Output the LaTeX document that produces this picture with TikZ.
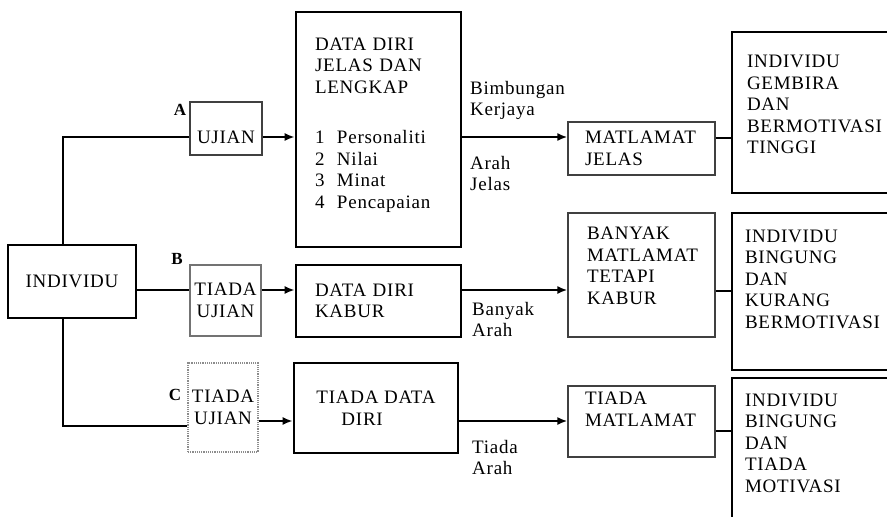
\documentclass[tikz,border=0pt]{standalone}
\usepackage{fontspec}
\setmainfont{Liberation Serif}[LetterSpace=4]
\usetikzlibrary{arrows.meta}

\begin{document}
\begin{tikzpicture}[x=1pt,y=-1pt,font=\fontsize{19}{21.5}\selectfont]
  \tikzset{heavy/.style = {draw,line width=2.6pt,inner ysep=0pt}}
  \tikzset{light/.style = {draw=black!75,line width=1.2pt,inner ysep=0pt}}
  \tikzset{edge/.style = {line width=2.2pt,-{Latex[length=10pt,width=8pt]}}}
  \tikzset{link/.style = {line width=2.2pt}}
  \tikzset{tag/.style = {font=\fontsize{17}{20}\selectfont\bfseries,inner sep=0pt}}
  \tikzset{note/.style = {align=left,inner sep=0pt,anchor=north west}}

  \useasboundingbox (0,0) rectangle (887,517);

  % left column
	\node[heavy,minimum width=128pt,minimum height=73pt] (indiv) at (72,281.5) {INDIVIDU};
	\node[light,minimum width=72pt,minimum height=53pt,text height=30pt] (ujianA) at (226,128.5) {UJIAN};
	\node[light,draw=black!55,minimum width=71pt,minimum height=71pt,align=center] (ujianB) at (225.5,300.5) {TIADA\\UJIAN};
	\node[light,draw=black!45,densely dotted,minimum width=70pt,minimum height=89pt,align=center] (ujianC) at (223,407.5) {TIADA\\UJIAN};

	\node[tag] (labA) at (180,110) {A};
	\node[tag] (labB) at (177,259) {B};
	\node[tag] (labC) at (175,395) {C};

  % data boxes
	\node[heavy,minimum width=165pt,minimum height=235pt,inner xsep=19pt,text width=127pt,align=left,text depth=171pt] (dataA) at (378.5,129.5)
	  {DATA DIRI\\JELAS DAN\\LENGKAP\\[29pt]
	   \makebox[22pt][l]{1}Personaliti\\\makebox[22pt][l]{2}Nilai\\\makebox[22pt][l]{3}Minat\\\makebox[22pt][l]{4}Pencapaian};
	\node[heavy,minimum width=165pt,minimum height=72pt,inner xsep=19pt,text width=127pt,align=left] (dataB) at (378.5,301) {DATA DIRI\\KABUR};
	\node[heavy,minimum width=164pt,minimum height=90pt,align=left] (dataC) at (376,408) {TIADA DATA\\\hspace*{25pt}DIRI};

  % goal boxes
	\node[light,minimum width=147pt,minimum height=53pt,inner xsep=17pt,text width=113pt,align=left] (goalA) at (641.5,148.5) {MATLAMAT\\JELAS};
	\node[light,minimum width=147pt,minimum height=124pt,inner xsep=19pt,text width=109pt,align=left,text depth=83.5pt] (goalB) at (641.5,275) {BANYAK\\MATLAMAT\\TETAPI\\KABUR};
	\node[light,minimum width=147pt,minimum height=71pt,inner xsep=17pt,text width=113pt,align=left,text depth=46.5pt] (goalC) at (641.5,421.5) {TIADA\\MATLAMAT};

  % outcome boxes
	\node[heavy,minimum width=200pt,minimum height=161pt,inner xsep=15pt,text width=170pt,align=left,text depth=102pt] (outA) at (832,112.5) {INDIVIDU\\GEMBIRA\\DAN\\BERMOTIVASI\\TINGGI};
	\node[heavy,minimum width=200pt,minimum height=157pt,inner xsep=13pt,text width=174pt,align=left,text depth=111pt] (outB) at (832,291.5) {INDIVIDU\\BINGUNG\\DAN\\KURANG\\BERMOTIVASI};
	\node[heavy,minimum width=200pt,minimum height=182pt,inner xsep=13pt,text width=174pt,align=left,text depth=138pt] (outC) at (832,469) {INDIVIDU\\BINGUNG\\DAN\\TIADA\\MOTIVASI};

  % arrow texts
	\node[note] (noteA1) at (470,81) {Bimbungan\\Kerjaya};
	\node[note] (noteA2) at (470,156) {Arah\\Jelas};
	\node[note] (noteB) at (472,302) {Banyak\\Arah};
	\node[note] (noteC) at (472,440) {Tiada\\Arah};

	\coordinate (trunk) at (63,0);
	\coordinate (rowA) at (0,137);
	\coordinate (rowB) at (0,290);
	\coordinate (rowC) at (0,421);
	\coordinate (rowCin) at (0,426);
	\coordinate (endA) at (0,138);
	\coordinate (endB) at (0,291);
	\coordinate (endC) at (0,431);

	\draw[link] (indiv.north -| trunk) |- (ujianA.west |- rowA);
	\draw[link] (indiv.east |- rowB) -- (ujianB.west |- rowB);
	\draw[link] (indiv.south -| trunk) |- (ujianC.west |- rowCin);

       \foreach \from/\to/\row in {ujianA/dataA/rowA, ujianB/dataB/rowB, ujianC/dataC/rowC, dataA/goalA/rowA, dataB/goalB/rowB, dataC/goalC/rowC}
    \draw[edge] (\from.east |- \row) -- (\to.west |- \row);
       \foreach \from/\to/\row in {goalA/outA/endA, goalB/outB/endB, goalC/outC/endC}
    \draw[link] (\from.east |- \row) -- (\to.west |- \row);
\end{tikzpicture}
\end{document}
